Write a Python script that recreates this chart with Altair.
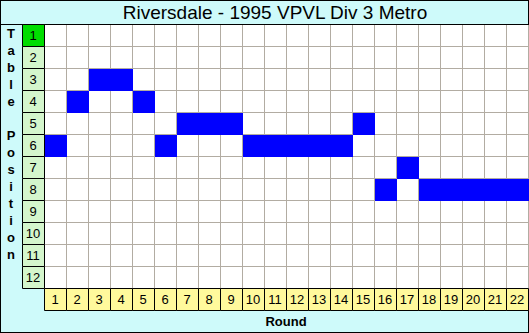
import altair as alt
import pandas as pd

TITLE = "Riversdale - 1995 VPVL Div 3 Metro"
Y_TITLE = "Table Position"
X_TITLE = "Round"
ROUNDS = list(range(1, 23))
POSITIONS = [6, 4, 3, 3, 4, 6, 5, 5, 5, 6, 6, 6, 6, 6, 5, 8, 7, 8, 8, 8, 8, 8]
TABLE_ROWS = list(range(1, 13))

W, H = 529, 333
CELL = 22
N_ROUNDS = len(ROUNDS)
N_ROWS = len(TABLE_ROWS)

# scales: units are cells; grid starts at pixel (44, 24)
xs = alt.Scale(domain=[-2, W / CELL - 2], range=[0, W], nice=False, zero=False)
ys = alt.Scale(domain=[-24 / CELL, (H - 24) / CELL], range=[0, H], nice=False, zero=False)

BG = "#CEFAFA"
GRID = "#B2ACA2"
ROWLAB = "#D4F6CC"
COLLAB = "#FFF99C"
GREEN = "#00DD00"
BLUE = "#0000FF"

one = pd.DataFrame({"a": [0]})

bg = alt.Chart(one).mark_rect(color="white").encode(
    x=alt.X(datum=0, scale=xs, axis=None), x2=alt.X2(datum=N_ROUNDS),
    y=alt.Y(datum=0, scale=ys, axis=None), y2=alt.Y2(datum=N_ROWS),
)

vlines = pd.DataFrame({"x": list(range(0, N_ROUNDS + 1))})
vgrid = alt.Chart(vlines).mark_rule(color=GRID, strokeWidth=1, xOffset=0.5).encode(
    x=alt.X("x:Q", scale=xs, axis=None),
    y=alt.Y(datum=0, scale=ys, axis=None), y2=alt.Y2(datum=N_ROWS),
)
hlines = pd.DataFrame({"y": list(range(0, N_ROWS + 1))})
hgrid = alt.Chart(hlines).mark_rule(color=GRID, strokeWidth=1, yOffset=0.5).encode(
    y=alt.Y("y:Q", scale=ys, axis=None),
    x=alt.X(datum=0, scale=xs, axis=None), x2=alt.X2(datum=W / CELL - 2),
)

df = pd.DataFrame({"round": ROUNDS, "pos": POSITIONS})
cells = alt.Chart(df).transform_calculate(
    r0="datum.round - 1", p0="datum.pos - 1"
).mark_rect(color=BLUE, xOffset=1, yOffset=1, x2Offset=1, y2Offset=1).encode(
    x=alt.X("r0:Q", scale=xs, axis=None), x2="round:Q",
    y=alt.Y("p0:Q", scale=ys, axis=None), y2="pos:Q",
)

tline = alt.Chart(one).mark_rule(color="black", strokeWidth=1, yOffset=0.5).encode(
    y=alt.Y(datum=0, scale=ys, axis=None),
    x=alt.X(datum=-2, scale=xs, axis=None), x2=alt.X2(datum=W / CELL - 2),
)

rows = pd.DataFrame({"row": TABLE_ROWS})
rowrect = alt.Chart(rows).transform_calculate(
    r0="datum.row - 1", top="datum.row == 1 ? 'y' : 'n'"
).mark_rect(stroke="black", strokeWidth=1, xOffset=0.5, yOffset=0.5, x2Offset=0.5, y2Offset=0.5).encode(
    x=alt.X(datum=-1, scale=xs, axis=None), x2=alt.X2(datum=0),
    y=alt.Y("r0:Q", scale=ys, axis=None), y2="row:Q",
    fill=alt.Fill("top:N", scale=alt.Scale(domain=["y", "n"], range=[GREEN, ROWLAB]), legend=None),
)
rowtext = alt.Chart(rows).transform_calculate(
    rc="datum.row - 0.5", lab="'' + datum.row"
).mark_text(font="Liberation Sans", fontSize=13, color="black", baseline="middle", align="center", dy=1).encode(
    x=alt.X(datum=-0.5, scale=xs, axis=None),
    y=alt.Y("rc:Q", scale=ys, axis=None),
    text="lab:N",
)

cols = pd.DataFrame({"round": ROUNDS})
colrect = alt.Chart(cols).transform_calculate(
    r0="datum.round - 1"
).mark_rect(fill=COLLAB, stroke="black", strokeWidth=1, xOffset=0.5, yOffset=0.5, x2Offset=0.5, y2Offset=0.5).encode(
    x=alt.X("r0:Q", scale=xs, axis=None), x2="round:Q",
    y=alt.Y(datum=N_ROWS, scale=ys, axis=None), y2=alt.Y2(datum=N_ROWS + 1),
)
coltext = alt.Chart(cols).transform_calculate(
    rc="datum.round - 0.5", lab="'' + datum.round"
).mark_text(font="Liberation Sans", fontSize=13, color="black", baseline="middle", align="center", dy=1).encode(
    x=alt.X("rc:Q", scale=xs, axis=None),
    y=alt.Y(datum=N_ROWS + 0.5, scale=ys, axis=None),
    text="lab:N",
)

title = alt.Chart(one).mark_text(
    text=TITLE, font="Liberation Sans", fontSize=19, color="black", baseline="middle", align="center", dy=1
).encode(
    x=alt.X(datum=10.5, scale=xs, axis=None),
    y=alt.Y(datum=-0.55, scale=ys, axis=None),
)

# vertical stacked letters of the y title, 17 px apart
letters = pd.DataFrame({"ch": list(Y_TITLE), "i": list(range(len(Y_TITLE)))})
ylab = alt.Chart(letters).transform_calculate(
    yy="(10 + 17 * datum.i) / 22"
).mark_text(
    font="Liberation Sans", fontSize=13, fontWeight="bold", color="black",
    baseline="middle", align="center",
).encode(
    x=alt.X(datum=-1.5, scale=xs, axis=None),
    y=alt.Y("yy:Q", scale=ys, axis=None),
    text="ch:N",
)

xlab = alt.Chart(one).mark_text(
    text=X_TITLE, font="Liberation Sans", fontSize=13, fontWeight="bold", color="black",
    baseline="middle", align="center",
).encode(
    x=alt.X(datum=N_ROUNDS / 2, scale=xs, axis=None),
    y=alt.Y(datum=N_ROWS + 1.55, scale=ys, axis=None),
)

chart = alt.layer(
    bg, vgrid, hgrid, cells, tline, rowrect, rowtext, colrect, coltext, title, ylab, xlab
).properties(
    width=W, height=H, padding=0, autosize=alt.AutoSizeParams(type="none"), background=BG,
).configure_view(stroke="black", strokeWidth=2)

chart.save("out.html", embed_options={"renderer": "svg", "actions": False})
